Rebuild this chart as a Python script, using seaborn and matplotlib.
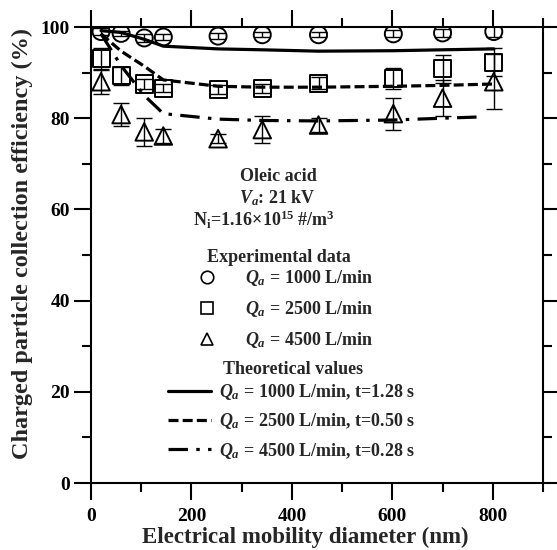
import numpy as np
import pandas as pd
import matplotlib
matplotlib.use("Agg")
import matplotlib.pyplot as plt
from matplotlib.lines import Line2D
from matplotlib.ticker import MultipleLocator
import seaborn as sns

# Electrical mobility diameter (nm)
diameter = [20, 60, 106, 144, 253, 341, 453, 602, 700, 802]

# Measured collection efficiency (%) and error half-widths
eff_1000 = [99.0, 98.6, 97.6, 97.8, 98.0, 98.3, 98.3, 98.5, 98.7, 99.0]
err_1000 = [0.8, 0.6, 0.8, 0.6, 0.6, 0.6, 0.6, 0.8, 0.8, 1.2]
eff_2500 = [93.0, 89.3, 87.5, 86.6, 86.3, 86.6, 87.7, 88.6, 90.8, 92.3]
err_2500 = [2.5, 2.0, 1.2, 0.8, 1.0, 1.0, 1.3, 2.3, 3.0, 3.0]
eff_4500 = [88.0, 80.8, 77.0, 76.1, 75.5, 77.5, 78.5, 81.0, 84.4, 88.0]
err_4500 = [2.8, 2.5, 3.0, 1.6, 1.0, 3.0, 1.5, 3.5, 4.0, 6.0]

# Theoretical collection efficiency (%)
theo_x = [20, 60, 106, 144, 253, 341, 453, 602, 700, 802]
theo_1000 = [99.2, 98.8, 97.3, 95.8, 95.2, 95.0, 94.7, 94.8, 95.0, 95.2]
theo_2500 = [98.5, 94.7, 91.4, 88.4, 87.0, 86.8, 86.8, 87.0, 87.2, 87.5]
theo_4500 = [98.5, 91.5, 85.0, 81.0, 79.8, 79.5, 79.4, 79.6, 80.0, 80.3]
theo_4500_x = [20, 60, 106, 144, 253, 341, 453, 602, 700, 782]

flow_labels = ["1000", "2500", "4500"]
time_labels = ["1.28", "0.50", "0.28"]

sns.set_theme(style="ticks")
plt.rcParams.update({
    "font.family": ["Liberation Serif", "DejaVu Serif"],
    "font.weight": "bold",
    "mathtext.fontset": "custom",
    "mathtext.rm": "Liberation Serif:bold",
    "mathtext.it": "Liberation Serif:bold:italic",
    "mathtext.bf": "Liberation Serif:bold",
    "lines.scale_dashes": False,
    "axes.edgecolor": "black",
    "axes.linewidth": 1.5,
    "xtick.color": "black",
    "ytick.color": "black",
})

fig = plt.figure(figsize=(5.57, 5.50), dpi=100)
ax = fig.add_axes([91 / 557, 67 / 550, 452 / 557, 456 / 550])

# theoretical curves
line_styles = {"1000": (None, None), "2500": (7.2, 3.0), "4500": (14.0, 6.0, 2.5, 6.0)}
theo = pd.concat([
    pd.DataFrame({"d": theo_x, "eff": theo_1000, "Q": "1000"}),
    pd.DataFrame({"d": theo_x, "eff": theo_2500, "Q": "2500"}),
    pd.DataFrame({"d": theo_4500_x, "eff": theo_4500, "Q": "4500"}),
])
for q, grp in theo.groupby("Q"):
    sns.lineplot(data=grp, x="d", y="eff", ax=ax, color="black", lw=2.3,
                 legend=False, sort=False)
    line = ax.lines[-1]
    if line_styles[q][0] is not None:
        line.set_dashes(line_styles[q])

# measured points with error bars
meas = {"1000": (eff_1000, err_1000, "o"),
        "2500": (eff_2500, err_2500, "s"),
        "4500": (eff_4500, err_4500, "^")}
for q, (eff, err, mk) in meas.items():
    ax.errorbar(diameter, eff, yerr=err, fmt="none", ecolor="black",
                elinewidth=1.0, capsize=6, capthick=1.0, zorder=3)
    sns.scatterplot(x=diameter, y=eff, ax=ax, marker=mk, s=150 if mk != "^" else 160,
                    facecolor="none", edgecolor="black", linewidth=1.4, zorder=4)

ax.set_xlim(0, 900)
ax.set_ylim(0, 100)
ax.xaxis.set_major_locator(MultipleLocator(200))
ax.xaxis.set_minor_locator(MultipleLocator(100))
ax.yaxis.set_major_locator(MultipleLocator(20))
ax.yaxis.set_minor_locator(MultipleLocator(10))
ax.tick_params(axis="both", which="both", direction="out", width=1.5,
               top=True, right=True, labelsize=14)
ax.tick_params(axis="x", which="major", length=12, pad=6)
ax.tick_params(axis="x", which="minor", length=6.5)
ax.tick_params(axis="y", which="major", length=12, pad=3)
ax.tick_params(axis="y", which="minor", length=6.5)
for side in ("top", "right", "left", "bottom"):
    ax.spines[side].set_visible(True)
    ax.spines[side].set_linewidth(1.5)

ax.set_xlabel("Electrical mobility diameter (nm)", fontsize=16.5, fontweight="bold")
ax.set_ylabel("Charged particle collection efficiency (%)", fontsize=17.5, fontweight="bold")
ax.xaxis.set_label_coords(0.475, -0.096)
ax.yaxis.set_label_coords(-0.128, 0.525)

# annotations
def px(x, y):
    return x / 557, 1 - y / 550

fs = 13
fig.text(*px(278, 176), "Oleic acid", ha="center", va="center", fontsize=fs, fontweight="bold")
fig.text(*px(277, 198), r"$V_a$: 21 kV", ha="center", va="center", fontsize=fs, fontweight="bold")
fig.text(*px(264, 220), r"N$_\mathrm{i}$=1.16×10$^{15}$ #/m$^3$", ha="center", va="center",
         fontsize=fs, fontweight="bold")
fig.text(*px(207, 257), "Experimental data", ha="left", va="center", fontsize=fs, fontweight="bold")
fig.text(*px(223, 370), "Theoretical values", ha="left", va="center", fontsize=fs, fontweight="bold")

exp_handles = [Line2D([], [], ls="none", marker=m, markersize=s, markerfacecolor="none",
                      markeredgecolor="black", markeredgewidth=1.2)
               for m, s in (("o", 9), ("s", 9), ("^", 8))]
exp_labels = [rf"$Q_a$ = {q} L/min" for q in flow_labels]
leg1 = fig.legend(exp_handles, exp_labels, loc="upper left", bbox_to_anchor=px(196, 268),
                  frameon=False, fontsize=fs, handlelength=1.2, handletextpad=1.5,
                  labelspacing=0.62, borderaxespad=0, borderpad=0)

theo_handles = [Line2D([], [], color="black", lw=2.3, ls="-"),
                Line2D([], [], color="black", lw=2.3, dashes=(7.2, 3.0)),
                Line2D([], [], color="black", lw=2.3, dashes=(14.0, 6.0, 2.5, 6.0))]
theo_labels = [rf"$Q_a$ = {q} L/min, t={t} s" for q, t in zip(flow_labels, time_labels)]
leg2 = fig.legend(theo_handles, theo_labels, loc="upper left", bbox_to_anchor=px(168, 382),
                  frameon=False, fontsize=fs, handlelength=2.4, handletextpad=0.45,
                  labelspacing=0.52, borderaxespad=0, borderpad=0)

fig.savefig("out.png", dpi=100)
